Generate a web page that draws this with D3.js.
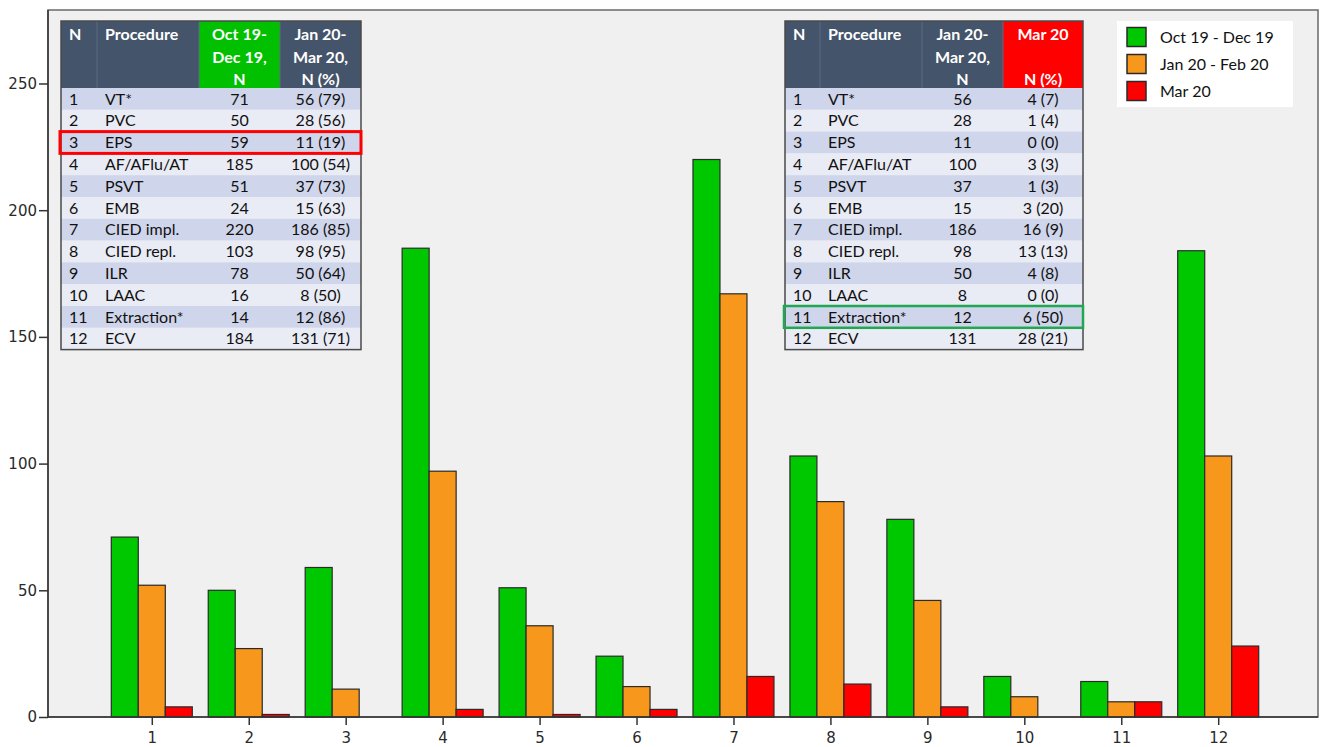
<!DOCTYPE html>
<html>
<head>
<meta charset="utf-8">
<script src="https://cdn.jsdelivr.net/npm/d3@7"></script>
<style>
  html, body { margin: 0; padding: 0; background: #fff; }
  svg { display: block; }
</style>
</head>
<body>
<svg id="chart" width="1322" height="747"></svg>
<script>
// chart data
var groups = ["1", "2", "3", "4", "5", "6", "7", "8", "9", "10", "11", "12"];
var seriesNames = ["Oct 19 - Dec 19", "Jan 20 - Feb 20", "Mar 20"];
var octDec = [71, 50, 59, 185, 51, 24, 220, 103, 78, 16, 14, 184];
var janFeb = [52, 27, 11, 97, 36, 12, 167, 85, 46, 8, 6, 103];
var mar = [4, 1, 0, 3, 1, 3, 16, 13, 4, 0, 6, 28];
var yTicks = [0, 50, 100, 150, 200, 250];

// table text
var procedures = ["VT*", "PVC", "EPS", "AF/AFlu/AT", "PSVT", "EMB", "CIED impl.", "CIED repl.", "ILR", "LAAC", "Extraction*", "ECV"];
var tOctDec = ["71", "50", "59", "185", "51", "24", "220", "103", "78", "16", "14", "184"];
var tJanMar = ["56 (79)", "28 (56)", "11 (19)", "100 (54)", "37 (73)", "15 (63)", "186 (85)", "98 (95)", "50 (64)", "8 (50)", "12 (86)", "131 (71)"];
var tJanMarN = ["56", "28", "11", "100", "37", "15", "186", "98", "50", "8", "12", "131"];
var tMar = ["4 (7)", "1 (4)", "0 (0)", "3 (3)", "1 (3)", "3 (20)", "16 (9)", "13 (13)", "4 (8)", "0 (0)", "6 (50)", "28 (21)"];

var colors = ["#00c800", "#f7981d", "#ff0000"];

(function () {
    var svg = d3.select("#chart");
    var pLeft = 48, pRight = 1318, pTop = 10, pBottom = 717;

    var x = d3.scalePoint().domain(groups).range([pLeft + 2, pRight + 2]).padding(1.05);
    var y = d3.scaleLinear().domain([0, 279]).range([pBottom, pTop]);
    var barW = 27;

    // plot background
    svg.append("rect").attr("x", pLeft).attr("y", pTop)
        .attr("width", pRight - pLeft).attr("height", pBottom - pTop)
        .attr("fill", "#f0f0f0").attr("stroke", "#6a6a6a").attr("stroke-width", 1.5);

    // bars
    var series = [octDec, janFeb, mar];
    series.forEach(function (vals, s) {
        svg.append("g").selectAll("rect").data(vals).enter().append("rect")
            .attr("x", function (d, i) { return x(groups[i]) - 1.5 * barW + s * barW; })
            .attr("y", function (d) { return y(d); })
            .attr("width", barW)
            .attr("height", function (d) { return pBottom - y(d); })
            .attr("fill", colors[s])
            .attr("stroke", function (d) { return d > 0 ? "#2a2a2a" : "none"; })
            .attr("stroke-width", 1.2);
    });

    // axes
    var yAxis = svg.append("g").attr("transform", "translate(" + pLeft + ",0)")
        .call(d3.axisLeft(y).tickValues(yTicks).tickSize(9).tickPadding(2));
    var xAxis = svg.append("g").attr("transform", "translate(0," + pBottom + ")")
        .call(d3.axisBottom(x).tickSize(8).tickPadding(7));
    [yAxis, xAxis].forEach(function (a) {
        a.select(".domain").attr("stroke", "#333").attr("stroke-width", 1.5);
        a.selectAll(".tick line").attr("stroke", "#333").attr("stroke-width", 1.5);
        a.selectAll(".tick text").attr("fill", "#2a2a2a")
            .style("font-family", "'DejaVu Sans', Verdana, sans-serif").style("font-size", "15px");
    });
    xAxis.select(".domain").attr("d", "M" + pLeft + ",0H" + pRight);
    yAxis.select(".domain").attr("d", "M0," + pBottom + "V" + pTop);

    // tables
    var font = "Lato, 'Noto Sans', sans-serif";
    var headH = 67, rowH = 21.8, tTop = 21;
    function drawTable(x0, cols, heads, headFill, rows, box) {
        var g = svg.append("g");
        var tRight = cols[cols.length - 1];
        // header
        g.append("rect").attr("x", x0).attr("y", tTop).attr("width", tRight - x0).attr("height", headH)
            .attr("fill", "#44546a");
        headFill.forEach(function (f, c) {
            if (f) g.append("rect").attr("x", cols[c]).attr("y", tTop)
                .attr("width", cols[c + 1] - cols[c]).attr("height", headH).attr("fill", f);
        });
        // column separators in header
        cols.slice(1, -1).forEach(function (cx) {
            g.append("line").attr("x1", cx).attr("x2", cx).attr("y1", tTop).attr("y2", tTop + headH)
                .attr("stroke", "#5a6a80").attr("stroke-width", 1);
        });
        heads.forEach(function (lines, c) {
            lines.forEach(function (t, li) {
                var center = c >= 2;
                g.append("text")
                    .attr("x", center ? (cols[c] + cols[c + 1]) / 2 : cols[c] + 8)
                    .attr("y", tTop + 19 + li * 22.5)
                    .attr("text-anchor", center ? "middle" : "start")
                    .attr("fill", "#fff").attr("font-weight", "bold")
                    .style("font-family", font).style("font-size", "16px").text(t);
            });
        });
        // body rows
        rows.forEach(function (r, i) {
            var ry = tTop + headH + i * rowH;
            g.append("rect").attr("x", x0).attr("y", ry).attr("width", tRight - x0).attr("height", rowH)
                .attr("fill", i % 2 === 0 ? "#cfd5ea" : "#e9ebf5");
            r.forEach(function (t, c) {
                var center = c >= 2;
                g.append("text")
                    .attr("x", center ? (cols[c] + cols[c + 1]) / 2 : cols[c] + 8)
                    .attr("y", ry + 16.5)
                    .attr("text-anchor", center ? "middle" : "start")
                    .attr("fill", "#111")
                    .style("font-family", font).style("font-size", "16px").text(t);
            });
        });
        g.append("rect").attr("x", x0).attr("y", tTop)
            .attr("width", tRight - x0).attr("height", headH + rows.length * rowH)
            .attr("fill", "none").attr("stroke", "#4a4a4a").attr("stroke-width", 1.5);
        // highlight box
        g.append("rect").attr("x", x0 - 1).attr("y", tTop + headH + box.row * rowH)
            .attr("width", tRight - x0 + 1).attr("height", rowH)
            .attr("fill", "none").attr("stroke", box.color).attr("stroke-width", box.w);
    }

    drawTable(61, [61, 97, 199, 280, 361],
        [["N"], ["Procedure"], ["Oct 19-", "Dec 19,", "N"], ["Jan 20-", "Mar 20,", "N (%)"]],
        [null, null, "#00c000", null],
        procedures.map(function (p, i) { return [String(i + 1), p, tOctDec[i], tJanMar[i]]; }),
        { row: 2, color: "#ff0000", w: 3 });

    drawTable(785, [785, 820, 922, 1003, 1083],
        [["N"], ["Procedure"], ["Jan 20-", "Mar 20,", "N"], ["Mar 20", "", "N (%)"]],
        [null, null, null, "#ff0000"],
        procedures.map(function (p, i) { return [String(i + 1), p, tJanMarN[i], tMar[i]]; }),
        { row: 10, color: "#1fa84f", w: 2.5 });

    // legend
    var lg = svg.append("g");
    lg.append("rect").attr("x", 1117).attr("y", 21).attr("width", 176).attr("height", 86).attr("fill", "#fff");
    seriesNames.forEach(function (n, i) {
        var cy = 37 + i * 27;
        lg.append("rect").attr("x", 1127).attr("y", cy - 9.5).attr("width", 19).attr("height", 19)
            .attr("fill", colors[i]).attr("stroke", "#2a2a2a").attr("stroke-width", 1.5);
        lg.append("text").attr("x", 1160).attr("y", cy + 5.5).attr("fill", "#111")
            .style("font-family", font).style("font-size", "16px").text(n);
    });
})();
</script>
</body>
</html>
